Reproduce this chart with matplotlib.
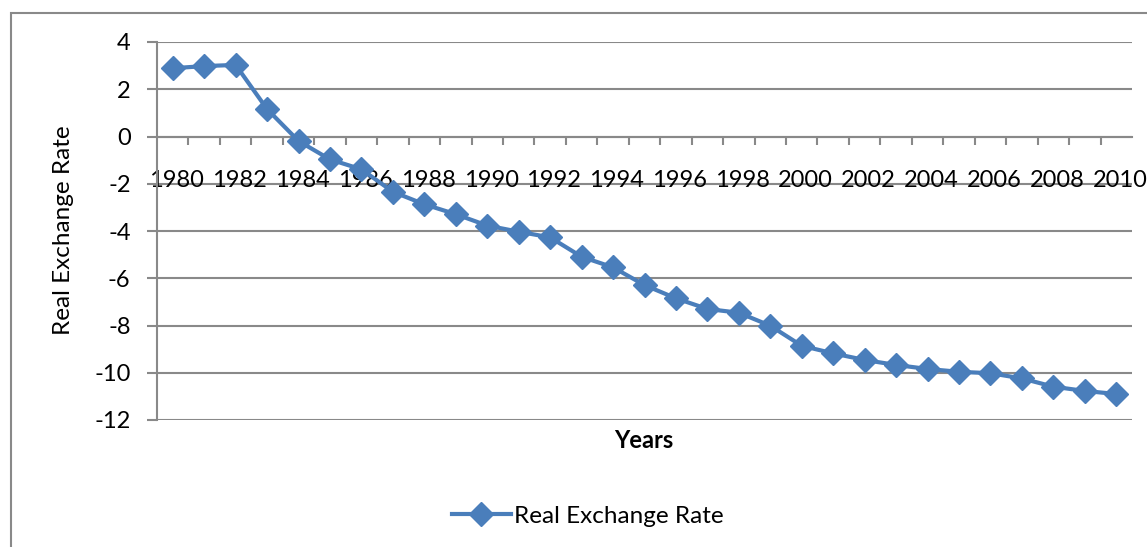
import matplotlib.pyplot as plt
import numpy as np
from matplotlib.patches import Rectangle
from matplotlib.lines import Line2D

plt.rcParams['font.family'] = ['Lato', 'DejaVu Sans']

years = list(range(1980, 2011))
rate = [2.89, 2.98, 3.03, 1.16, -0.19, -0.97, -1.39, -2.34, -2.87, -3.29,
        -3.77, -4.03, -4.27, -5.09, -5.54, -6.29, -6.85, -7.30, -7.46, -8.01,
        -8.86, -9.18, -9.46, -9.67, -9.84, -9.96, -10.02, -10.24, -10.59, -10.77,
        -10.90]
y_ticks = [4, 2, 0, -2, -4, -6, -8, -10, -12]

blue = '#4A7EBB'
grey = '#898989'

fig = plt.figure(figsize=(11.47, 5.47), dpi=100)

# outer chart frame
fig.patches.append(Rectangle((11 / 1147, -0.05), 1.2, 1 - 13 / 547 + 0.05,
                             transform=fig.transFigure, fill=False,
                             edgecolor=grey, linewidth=1.5))

ax = fig.add_axes([157 / 1147, 1 - 420 / 547, (1132 - 157) / 1147, (420 - 42) / 547])

x = np.arange(len(years))
ax.plot(x, rate, color=blue, linewidth=3, marker='D', markersize=12.5,
        markerfacecolor=blue, markeredgecolor=blue, zorder=3)

ax.set_xlim(-0.5, len(years) - 0.5)
ax.set_ylim(-12, 4)

# horizontal gridlines
for v in y_ticks:
    ax.axhline(v, color=grey, linewidth=1.5, zorder=1)

for side in ['top', 'right', 'bottom']:
    ax.spines[side].set_visible(False)
ax.spines['left'].set_color(grey)
ax.spines['left'].set_linewidth(1.5)

ax.set_yticks(y_ticks)
ax.set_yticklabels([str(v) for v in y_ticks])
ax.tick_params(axis='y', length=7, width=1.5, color=grey, pad=12, labelsize=17)

# category axis drawn along the zero line
ax.set_xticks(x[::2] + 0.12)
ax.set_xticklabels([str(y) for y in years[::2]])
ax.set_xticks(np.arange(len(years) - 1) + 0.5, minor=True)
ax.tick_params(axis='x', which='major', length=0, pad=24, labelsize=17)
ax.tick_params(axis='x', which='minor', length=6, width=1.5, color=grey)
ax.spines['bottom'].set_visible(True)
ax.spines['bottom'].set_position(('data', 0))
ax.spines['bottom'].set_color(grey)
ax.spines['bottom'].set_linewidth(1.5)
for t in ax.get_xticklabels():
    t.set_zorder(5)

fig.text(63 / 1147, 1 - 230 / 547, 'Real Exchange Rate', rotation=90,
         ha='center', va='center', fontsize=17.5)
fig.text(644 / 1147, 1 - 441 / 547, 'Years', ha='center', va='center',
         fontsize=17, fontweight='bold')

handle = Line2D([], [], color=blue, linewidth=3, marker='D', markersize=12.5)
fig.legend([handle], ['Real Exchange Rate'], loc='center',
           bbox_to_anchor=(588 / 1147, 1 - 516 / 547), frameon=False,
           fontsize=17.5, handlelength=2.4, handletextpad=0.15)

fig.savefig('out.png', dpi=100)
